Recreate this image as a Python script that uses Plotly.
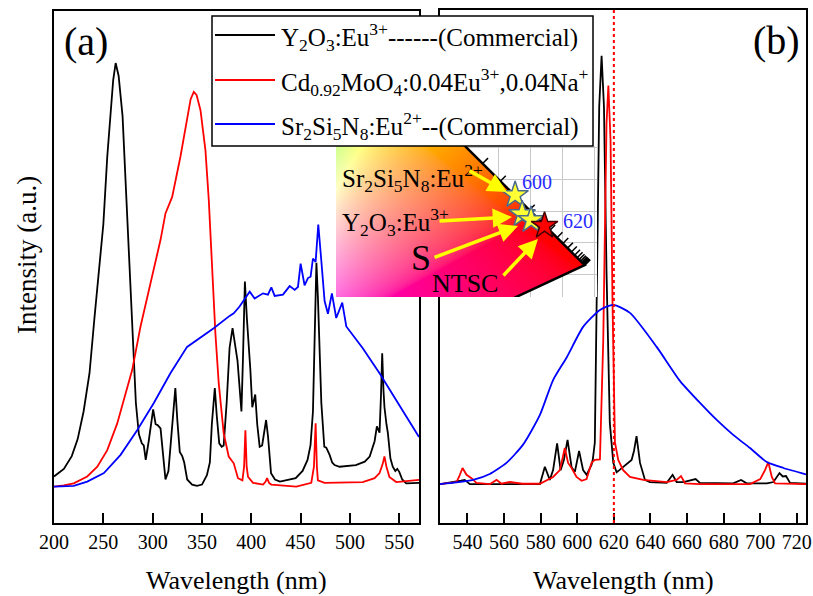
import numpy as np
import plotly.graph_objects as go

FW, FH = 813, 596
SERIF = "Liberation Serif, Times New Roman, Times, serif"

def fx(p):
    return p / FW

def fy(p):
    return 1 - p / FH

# ---------------- panel (a): excitation spectra ----------------
a_black_x = [200, 210, 218, 224, 230, 236, 241, 246, 250, 254, 257.5, 260, 262.5, 265.5, 269.5, 272.5,
             275.5, 279.5, 283, 286, 289, 291, 293, 296, 298, 300.5, 303, 305, 308, 310.5, 313, 316,
             319, 321.5, 323, 325, 327.5, 330, 332, 335, 340, 345, 350, 355, 358, 360, 363, 365, 367.5,
             370, 372, 375, 378, 381, 384, 386, 388, 390, 391.5, 393.5, 395.5, 397, 399, 401, 404, 406,
             408.5, 411, 413, 415, 417, 420, 424, 429, 445, 452, 457, 460, 462.5, 464, 466, 467.5, 469,
             471, 474, 476, 479.4, 482, 484.4, 489.5, 506, 515, 520, 525, 527.3, 530, 531.5, 532.7, 534,
             535, 537, 538.4, 541, 543.4, 546, 548, 550, 553, 557, 570]
a_black_y = [0.027, 0.045, 0.075, 0.115, 0.18, 0.27, 0.40, 0.52, 0.62, 0.78, 0.90, 0.96, 1.0, 0.97, 0.875, 0.72,
             0.56, 0.37, 0.2, 0.127, 0.105, 0.10, 0.066, 0.11, 0.15, 0.185, 0.15, 0.148, 0.14, 0.07, 0.02, 0.04,
             0.12, 0.2, 0.235, 0.16, 0.085, 0.075, 0.06, 0.02, 0.008, 0.005, 0.008, 0.03, 0.06, 0.15, 0.235, 0.17, 0.105,
             0.097, 0.1, 0.2, 0.33, 0.376, 0.33, 0.30, 0.24, 0.18, 0.3, 0.486, 0.40, 0.35, 0.28, 0.19, 0.22, 0.15,
             0.097, 0.1, 0.13, 0.16, 0.12, 0.035, 0.02, 0.015, 0.023, 0.04, 0.066, 0.1, 0.18, 0.35, 0.53, 0.45, 0.33,
             0.2, 0.097, 0.095, 0.078, 0.06, 0.054, 0.05, 0.054, 0.062, 0.074, 0.11, 0.145, 0.13, 0.22, 0.317, 0.23,
             0.19, 0.15, 0.13, 0.07, 0.05, 0.04, 0.045, 0.038, 0.02, 0.011, 0.012]

a_red_x = [200, 210, 220, 233.7, 243.9, 254, 264.1, 272.5, 279.3, 287.7, 297.9, 308, 313, 319.8, 328.2, 334.9,
           338.5, 341.7, 344.5, 348.5, 353.5, 356.9, 360.2, 363.6, 367, 372, 377.1, 382.2, 386.5, 391, 392.7,
           394, 395.3, 396.7, 401.8, 412, 414.5, 416, 418, 420.3, 445.6, 460.8, 463.5, 465.2, 466.5, 467.5,
           474.3, 513, 525, 530, 533, 535, 537, 540, 546.9, 570]
a_red_y = [0.003, 0.006, 0.011, 0.027, 0.05, 0.089, 0.152, 0.223, 0.278, 0.38, 0.48, 0.584, 0.646, 0.685, 0.78, 0.874,
           0.915, 0.932, 0.925, 0.889, 0.795, 0.678, 0.52, 0.364, 0.246, 0.129, 0.074, 0.058, 0.023, 0.018, 0.05,
           0.136, 0.05, 0.026, 0.012, 0.008, 0.015, 0.023, 0.012, 0.008, 0.003, 0.012, 0.05, 0.152, 0.05, 0.018,
           0.012, 0.014, 0.023, 0.035, 0.055, 0.074, 0.05, 0.026, 0.014, 0.019]

a_blue_x = [200, 220, 233.7, 250.6, 267.5, 284.3, 301.2, 318, 334.9, 345, 361.9, 378, 382.2, 388.1, 393.3, 398.4,
            403.4, 411.8, 416.9, 420.3, 423.7, 432.1, 438.9, 444, 447.3, 450, 454, 457.4, 460.1, 462.5, 465.2,
            467.9, 470.9, 474.3, 477.7, 481.7, 486.1, 492.2, 496.3, 503, 513, 530, 546.9, 570]
a_blue_y = [0.003, 0.005, 0.015, 0.035, 0.078, 0.136, 0.2, 0.27, 0.332, 0.348, 0.376, 0.405, 0.411, 0.427, 0.446, 0.462,
            0.446, 0.458, 0.455, 0.472, 0.452, 0.455, 0.475, 0.466, 0.473, 0.528, 0.477, 0.494, 0.497, 0.54, 0.532,
            0.62, 0.537, 0.44, 0.41, 0.458, 0.40, 0.436, 0.38, 0.36, 0.329, 0.27, 0.207, 0.12]

# ---------------- panel (b): emission spectra ----------------
b_black_x = [525, 534, 536.5, 538.5, 541.3, 552, 579.6, 582.3, 585, 586.8, 589, 590.9, 592.7, 594.7, 596.9, 598.7,
             601, 603.2, 605.1, 607.8, 608.5, 609.6, 610.9, 612, 613.3, 614.6, 616, 617.8, 619.7, 621.5, 623,
             625.1, 629.7, 631, 632.4, 634.3, 637, 639.7, 648.9, 652.1, 654.3, 658, 664.7, 667, 685.2, 689.5,
             692.6, 703.6, 707.2, 710.5, 712.3, 714.1, 716.3, 725]
b_black_y = [0.002, 0.007, 0.01, 0.012, 0.002, 0.002, 0.002, 0.043, 0.012, 0.035, 0.098, 0.035, 0.059, 0.106, 0.042, 0.031,
             0.08, 0.035, 0.024, 0.047, 0.06, 0.1, 0.5, 0.89, 1.01, 0.89, 0.5, 0.146, 0.052, 0.03, 0.035,
             0.042, 0.059, 0.08, 0.115, 0.052, 0.012, 0.007, 0.005, 0.024, 0.007, 0.007, 0.014, 0.005, 0.004, 0.012,
             0.004, 0.004, 0.007, 0.028, 0.02, 0.021, 0.005, 0.003]

b_red_x = [525, 534, 535.5, 537.3, 539.5, 542.2, 544.9, 552.2, 555.9, 558.6, 563.1, 570, 579.6, 583, 586.8, 590.5,
           593.2, 595, 596.9, 599.6, 602.4, 605.1, 607.8, 609.6, 612.4, 614.2, 616, 617, 618.2, 619.3, 620.6,
           622.4, 625.1, 628.8, 636.1, 648.9, 654.3, 656.7, 658.9, 667.1, 694.5, 700, 702.6, 704.4, 706.3,
           708.1, 725]
b_red_y = [0.002, 0.007, 0.02, 0.04, 0.024, 0.016, 0.005, 0.002, 0.012, 0.003, 0.007, 0.003, 0.003, 0.01, 0.019, 0.035,
           0.087, 0.052, 0.04, 0.019, 0.01, 0.014, 0.052, 0.059, 0.06, 0.34, 0.85, 0.94, 0.81, 0.42, 0.1,
           0.059, 0.035, 0.019, 0.012, 0.007, 0.012, 0.021, 0.004, 0.002, 0.002, 0.014, 0.035, 0.054, 0.019,
           0.004, 0.002]

b_blue_x = [525, 534, 543.1, 552.2, 561.3, 570.4, 579.6, 586.8, 594.2, 603.2, 612.4, 619.7, 628.8, 643.4, 656.1,
            667.1, 676.2, 685.2, 694.4, 703.6, 712.7, 725]
b_blue_y = [0.002, 0.006, 0.012, 0.026, 0.052, 0.095, 0.165, 0.247, 0.30, 0.372, 0.412, 0.424, 0.405, 0.325, 0.245,
            0.193, 0.153, 0.118, 0.087, 0.054, 0.04, 0.025]

a_ticks = [200, 250, 300, 350, 400, 450, 500, 550]
b_ticks = [540, 560, 580, 600, 620, 640, 660, 680, 700, 720]
ref_line_nm = 620

# ---------------- inset: CIE 1931 chromaticity ----------------
locus_nm = [570, 575, 580, 585, 590, 595, 600, 605, 610, 615, 620, 625, 630, 635, 640, 645, 650, 655, 660,
            665, 670, 675, 680, 685, 690, 695, 700]
locus_x = [0.4441, 0.4788, 0.5125, 0.5448, 0.5752, 0.6029, 0.6270, 0.6482, 0.6658, 0.6801, 0.6915, 0.7006,
           0.7079, 0.7140, 0.7190, 0.7230, 0.7260, 0.7283, 0.7300, 0.7311, 0.7320, 0.7327, 0.7334, 0.7340,
           0.7344, 0.7346, 0.7347]
locus_y = [0.5547, 0.5202, 0.4866, 0.4544, 0.4242, 0.3965, 0.3725, 0.3514, 0.3340, 0.3197, 0.3083, 0.2993,
           0.2920, 0.2859, 0.2809, 0.2770, 0.2740, 0.2717, 0.2700, 0.2689, 0.2680, 0.2673, 0.2666, 0.2660,
           0.2656, 0.2654, 0.2653]
purple_end = (0.1741, 0.0050)

star_names = ["Sr2Si5N8", "Y2O3", "S", "NTSC"]
star_x = [0.626, 0.637, 0.651, 0.672]
star_y = [0.375, 0.345, 0.336, 0.327]

arrow_tail_x = [0.5523, 0.5055, 0.4977, 0.6055]
arrow_tail_y = [0.4141, 0.3344, 0.2766, 0.2469]
arrow_head_x = [0.6133, 0.6211, 0.6305, 0.6617]
arrow_head_y = [0.3797, 0.3406, 0.3266, 0.3063]

INSET_PX = (336, 597, 146, 297)  # left, right, top, bottom in pixels
CIE_XR = [0.346, 0.754]
CIE_YR = [0.2156, 0.4516]

# ---------- colour field for the inset background ----------
nx = INSET_PX[1] - INSET_PX[0]
ny = INSET_PX[3] - INSET_PX[2]
ddx = (CIE_XR[1] - CIE_XR[0]) / nx
ddy = (CIE_YR[1] - CIE_YR[0]) / ny
xs = CIE_XR[0] + ddx * (np.arange(nx) + 0.5)
ys = CIE_YR[0] + ddy * (np.arange(ny) + 0.5)
gx, gy = np.meshgrid(xs, ys)
X = gx / gy
Z = (1 - gx - gy) / gy
R = 3.2406 * X - 1.5372 - 0.4986 * Z
G = -0.9689 * X + 1.8758 + 0.0415 * Z
B = 0.0557 * X - 0.2040 + 1.0570 * Z
rgb = np.clip(np.stack([R, G, B], -1), 0, None)
rgb = rgb / rgb.max(-1, keepdims=True)
rgb = np.where(rgb <= 0.0031308, 12.92 * rgb, 1.055 * rgb ** (1 / 2.4) - 0.055)
rgb = np.clip(rgb * 255, 0, 255)

poly = [(0.30, 0.62)] + list(zip(locus_x, locus_y)) + [purple_end]
inside = np.zeros(gx.shape, bool)
j = len(poly) - 1
for i in range(len(poly)):
    xi, yi = poly[i]
    xj, yj = poly[j]
    cond = ((yi > gy) != (yj > gy)) & (gx < (xj - xi) * (gy - yi) / (yj - yi + 1e-15) + xi)
    inside ^= cond
    j = i
alpha = inside.astype(float)
img = np.concatenate([np.round(rgb), alpha[..., None]], -1)

fig = go.Figure()

# panel a
fig.add_trace(go.Scatter(x=a_black_x, y=a_black_y, mode="lines", line=dict(color="black", width=1.8),
                         xaxis="x", yaxis="y", hoverinfo="skip"))
fig.add_trace(go.Scatter(x=a_red_x, y=a_red_y, mode="lines", line=dict(color="#ff0000", width=1.8),
                         xaxis="x", yaxis="y", hoverinfo="skip"))
fig.add_trace(go.Scatter(x=a_blue_x, y=a_blue_y, mode="lines", line=dict(color="#0000ff", width=1.8),
                         xaxis="x", yaxis="y", hoverinfo="skip"))
# panel b
fig.add_trace(go.Scatter(x=b_black_x, y=b_black_y, mode="lines", line=dict(color="black", width=1.8),
                         xaxis="x2", yaxis="y2", hoverinfo="skip"))
fig.add_trace(go.Scatter(x=b_red_x, y=b_red_y, mode="lines", line=dict(color="#ff0000", width=1.8),
                         xaxis="x2", yaxis="y2", hoverinfo="skip"))
fig.add_trace(go.Scatter(x=b_blue_x, y=b_blue_y, mode="lines", line=dict(color="#0000ff", width=1.8, shape="spline", smoothing=0.6),
                         xaxis="x2", yaxis="y2", hoverinfo="skip"))

# inset
fig.add_trace(go.Image(z=img.tolist(), colormodel="rgba", x0=float(xs[0]), dx=ddx, y0=float(ys[0]), dy=ddy,
                       xaxis="x3", yaxis="y3", hoverinfo="skip"))
fig.add_trace(go.Scatter(x=locus_x + [purple_end[0]], y=locus_y + [purple_end[1]], mode="lines",
                         line=dict(color="black", width=2.5), xaxis="x3", yaxis="y3", hoverinfo="skip"))
lx = np.array(locus_x)
ly = np.array(locus_y)
tx, ty = [], []
for k, nm in enumerate(locus_nm):
    if nm < 585:
        continue
    k0, k1 = max(k - 1, 0), min(k + 1, len(lx) - 1)
    tdx, tdy = lx[k1] - lx[k0], ly[k1] - ly[k0]
    nrm = np.hypot(tdx, tdy)
    ox, oy = -tdy / nrm, tdx / nrm
    if ox + oy < 0:
        ox, oy = -ox, -oy
    L = 0.012
    tx += [lx[k], lx[k] + ox * L, None]
    ty += [ly[k], ly[k] + oy * L, None]
fig.add_trace(go.Scatter(x=tx, y=ty, mode="lines", line=dict(color="black", width=1.5),
                         xaxis="x3", yaxis="y3", hoverinfo="skip"))
fig.add_trace(go.Scatter(x=star_x[:3], y=star_y[:3], mode="markers",
                         marker=dict(symbol="star", size=20, color="#ffff33", line=dict(color="#4a6a8c", width=1.5)),
                         xaxis="x3", yaxis="y3", hoverinfo="skip"))
fig.add_trace(go.Scatter(x=star_x[3:], y=star_y[3:], mode="markers",
                         marker=dict(symbol="star", size=20, color="#ff0000", line=dict(color="#400000", width=1.5)),
                         xaxis="x3", yaxis="y3", hoverinfo="skip"))

axis_common = dict(showline=True, linecolor="black", linewidth=2, mirror=True, showgrid=False, zeroline=False,
                   automargin=False)
tickfont = dict(family=SERIF, size=20, color="black")

fig.update_layout(
    width=FW, height=FH, margin=dict(l=0, r=0, t=0, b=0, pad=0), autosize=False,
    paper_bgcolor="white", plot_bgcolor="white", showlegend=False,
    font=dict(family=SERIF, color="black"),
    xaxis=dict(domain=[fx(54), fx(419)], range=[200, 570], tickvals=a_ticks, ticks="inside", ticklen=10,
               tickwidth=2, tickcolor="black", tickfont=tickfont, anchor="y", **axis_common),
    yaxis=dict(domain=[fy(523), fy(11)], range=[-0.0824, 1.1224], showticklabels=False, ticks="",
               anchor="x", **axis_common),
    xaxis2=dict(domain=[fx(440), fx(806)], range=[525, 725], tickvals=b_ticks, ticks="inside", ticklen=10,
                tickwidth=2, tickcolor="black", tickfont=tickfont, anchor="y2", **axis_common),
    yaxis2=dict(domain=[fy(523), fy(10)], range=[-0.0894, 1.1176], showticklabels=False, ticks="",
                anchor="x2", **axis_common),
    xaxis3=dict(domain=[fx(INSET_PX[0]), fx(INSET_PX[1])], range=CIE_XR, anchor="y3", showgrid=True,
                gridcolor="#c8c8c8", gridwidth=1, tick0=0, dtick=0.05, showticklabels=False, ticks="",
                zeroline=False, showline=False, automargin=False),
    yaxis3=dict(domain=[fy(INSET_PX[3]), fy(INSET_PX[2])], range=CIE_YR, anchor="x3", showgrid=True,
                gridcolor="#c8c8c8", gridwidth=1, tick0=0, dtick=0.05, showticklabels=False, ticks="",
                zeroline=False, showline=False, autorange=False, automargin=False),
)

shapes = [
    dict(type="line", xref="x2", yref="y2 domain", x0=ref_line_nm, x1=ref_line_nm, y0=0, y1=1,
         line=dict(color="#ff0000", width=2, dash="3px,3px"), layer="above"),
    dict(type="rect", xref="paper", yref="paper", x0=fx(212), x1=fx(593), y0=fy(146), y1=fy(16),
         line=dict(color="black", width=1.5), fillcolor="white", layer="above"),
]
legend_cols = ["black", "#ff0000", "#0000ff"]
legend_rows = [35, 80, 124]
legend_texts = ["Y<sub>2</sub>O<sub>3</sub>:Eu<sup>3+</sup>------(Commercial)",
                "Cd<sub>0.92</sub>MoO<sub>4</sub>:0.04Eu<sup>3+</sup>,0.04Na<sup>+</sup>",
                "Sr<sub>2</sub>Si<sub>5</sub>N<sub>8</sub>:Eu<sup>2+</sup>--(Commercial)"]
for c, r in zip(legend_cols, legend_rows):
    shapes.append(dict(type="line", xref="paper", yref="paper", x0=fx(215), x1=fx(275), y0=fy(r), y1=fy(r),
                       line=dict(color=c, width=2), layer="above"))
fig.update_layout(shapes=shapes)


def label(text, x, y, size, color="black", xanchor="center", angle=0):
    return dict(text=text, x=fx(x), y=fy(y), xref="paper", yref="paper", xanchor=xanchor, yanchor="middle",
                showarrow=False, textangle=angle, font=dict(family=SERIF, size=size, color=color))


ann = []
for t, r in zip(legend_texts, legend_rows):
    ann.append(label(t, 279, r + 2, 25, xanchor="left"))
ann += [
    label("(a)", 86, 42, 40),
    label("(b)", 776, 40, 40),
    label("Wavelength (nm)", 236.5, 580, 26),
    label("Wavelength (nm)", 623, 580, 26),
    label("Intensity (a.u.)", 27, 255, 27, angle=-90),
    label("Sr<sub>2</sub>Si<sub>5</sub>N<sub>8</sub>:Eu<sup>2+</sup>", 340, 178, 25, xanchor="left"),
    label("Y<sub>2</sub>O<sub>3</sub>:Eu<sup>3+</sup>", 340, 222, 25, xanchor="left"),
    label("S", 421, 258, 36),
    label("NTSC", 465, 283, 26),
    label("600", 537, 182, 20, color="#2a2aff"),
    label("620", 578, 221, 20, color="#2a2aff"),
]
for hx, hy, tx_, ty_ in zip(arrow_head_x, arrow_head_y, arrow_tail_x, arrow_tail_y):
    ann.append(dict(text="", x=hx, y=hy, ax=tx_, ay=ty_, xref="x3", yref="y3", axref="x3", ayref="y3",
                    showarrow=True, arrowhead=2, arrowsize=1.1, arrowwidth=3.5, arrowcolor="#ffff00",
                    standoff=0, startstandoff=0))
fig.update_layout(annotations=ann)

fig.write_html("out.html")
